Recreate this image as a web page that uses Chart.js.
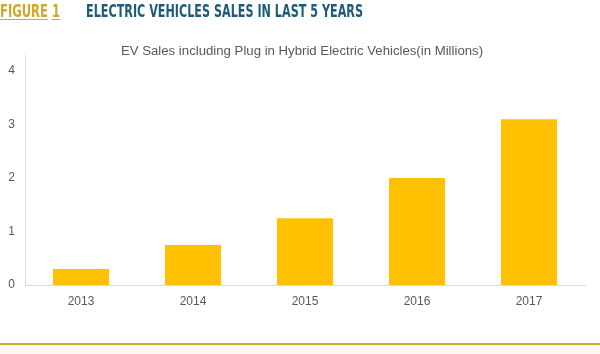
<!DOCTYPE html>
<html lang="en">
  <head>
    <meta charset="UTF-8">
    <script src="https://cdn.jsdelivr.net/npm/chart.js@4.4.0/dist/chart.umd.min.js"></script>
    <style>
      html, body { margin: 0; padding: 0; background: #FFFFFF; }
      .slide {
        position: relative;
        width: 600px;
        height: 354px;
        overflow: hidden;
        background: #FFFFFF;
      }
      .head {
        position: absolute;
        top: 1px;
        font-family: 'DejaVu Sans Condensed', 'Liberation Sans', sans-serif;
        font-weight: bold;
        font-size: 17px;
        white-space: nowrap;
        transform-origin: 0 0;
      }
      .fig-label {
        left: 0;
        color: #D4A52A;
      }
      .fig-label span {
        text-decoration: underline;
        text-underline-offset: 2px;
      }
      .fig-title {
        left: 86px;
        color: #1E5B78;
      }
      .chart-title {
        position: absolute;
        left: 0;
        width: 604px;
        top: 43px;
        text-align: center;
        font-family: 'Liberation Sans', Arial, sans-serif;
        font-size: 13.2px;
        color: #595959;
      }
      .chart-box {
        position: absolute;
        left: 0;
        top: 0;
        width: 600px;
        height: 354px;
      }
      .rule {
        position: absolute;
        left: 0;
        top: 343px;
        width: 600px;
        height: 2px;
        background: #D4AA2E;
      }
      .foot {
        position: absolute;
        left: 0;
        top: 345px;
        width: 600px;
        height: 9px;
        background: #FDF8F6;
      }
    </style>
  </head>
  <body>
    <div class="slide">
      <div class="chart-box"><canvas id="evChart"></canvas></div>
      <div class="head fig-label" data-w="60"><span>FIGURE</span> <span>1</span></div>
      <div class="head fig-title" data-w="277">ELECTRIC VEHICLES SALES IN LAST 5 YEARS</div>
      <div class="chart-title">EV Sales including Plug in Hybrid Electric Vehicles(in Millions)</div>
      <div class="rule"></div>
      <div class="foot"></div>
    </div>

    <script>
      // data
      const years = ['2013', '2014', '2015', '2016', '2017'];
      const salesMillions = [0.3, 0.75, 1.25, 2.0, 3.1];
      const yTicks = [0, 1, 2, 3, 4];

      // squeeze the header text into the narrow look of the original
      document.querySelectorAll('.head').forEach(el => {
        const w = el.getBoundingClientRect().width;
        el.style.transform = 'scaleX(' + (Number(el.dataset.w) / w) + ')';
      });

      const tickFont = { family: "'Liberation Sans', Arial, sans-serif", size: 12 };

      const ctx = document.getElementById('evChart').getContext('2d');
      new Chart(ctx, {
        type: 'bar',
        data: {
          labels: years,
          datasets: [{
            data: salesMillions,
            backgroundColor: '#FFC000',
            borderWidth: 0,
            categoryPercentage: 1,
            barPercentage: 0.5
          }]
        },
        options: {
          responsive: true,
          maintainAspectRatio: false,
          animation: false,
          layout: { padding: { top: 55, right: 15, bottom: 0, left: 0 } },
          plugins: {
            legend: { display: false },
            tooltip: { enabled: false }
          },
          scales: {
            x: {
              grid: { display: false, tickLength: 0 },
              border: { display: true, color: '#D9D9D9', width: 1 },
              ticks: { color: '#595959', font: tickFont, padding: 9 },
              afterFit: (scale) => { scale.height = 69; }
            },
            y: {
              min: 0,
              max: 4.3,
              grid: { display: false, tickLength: 0 },
              border: { display: true, color: '#D9D9D9', width: 1 },
              afterBuildTicks: (scale) => { scale.ticks = yTicks.map(v => ({ value: v })); },
              ticks: { color: '#595959', font: tickFont, padding: 10 },
              afterFit: (scale) => { scale.width = 25; }
            }
          }
        }
      });
    </script>
  </body>
</html>
